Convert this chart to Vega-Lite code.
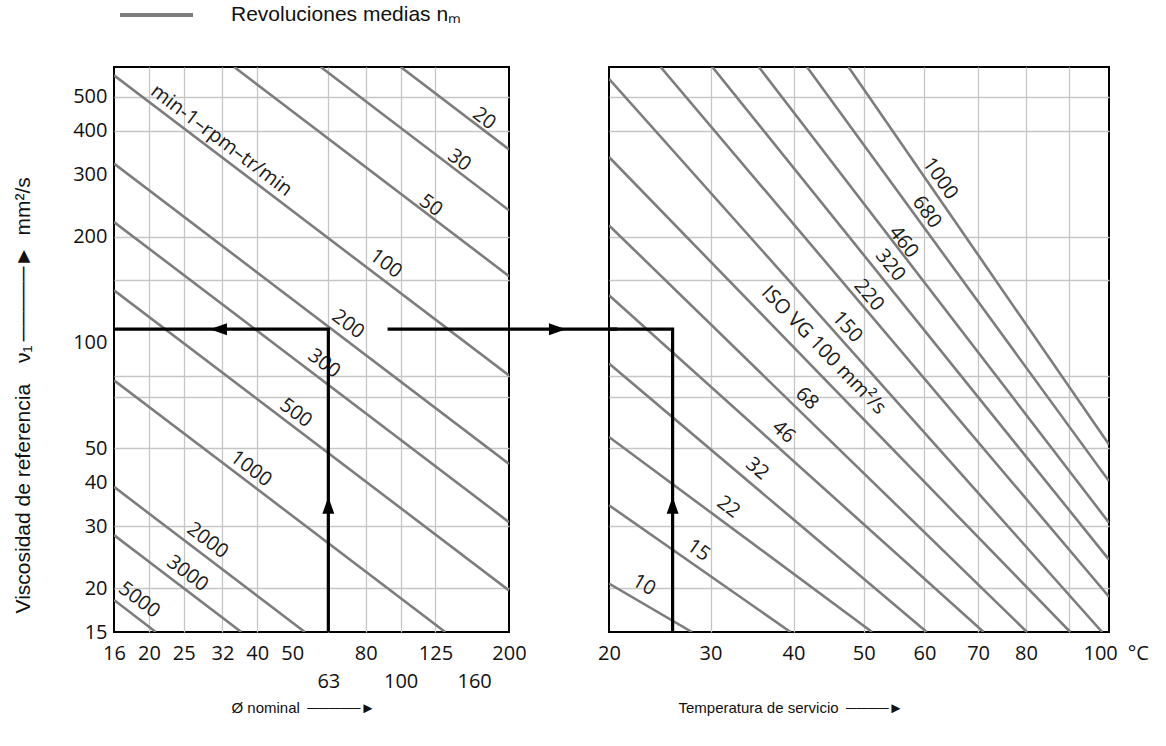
{
  "$schema": "https://vega.github.io/schema/vega-lite/v6.json",
  "background": "white",
  "padding": {"left": 10, "top": 5, "right": 5, "bottom": 5},
  "bounds": "flush",
  "spacing": 100,
  "config": {
    "view": {"stroke": "black", "strokeWidth": 2},
    "axis": {
      "labelFont": "Open Sans", "labelFontSize": 20, "labelColor": "#111111",
      "titleFont": "Liberation Sans", "titleFontSize": 15, "titleFontWeight": "normal", "titleColor": "#111111",
      "gridColor": "#c6c6c6", "gridWidth": 1.3, "ticks": false, "domain": false,
      "labelOverlap": false, "labelFlush": false
    }
  },
  "datasets": {
    "speed": [
      {"n": 20, "dm": 100.1, "nu": 607}, {"n": 20, "dm": 200, "nu": 353.6},
      {"n": 30, "dm": 60.0, "nu": 607}, {"n": 30, "dm": 200, "nu": 237.4},
      {"n": 50, "dm": 34.5, "nu": 607}, {"n": 50, "dm": 200, "nu": 154.3},
      {"n": 100, "dm": 16, "nu": 574.7}, {"n": 100, "dm": 200, "nu": 80.5},
      {"n": 200, "dm": 16, "nu": 322.4}, {"n": 200, "dm": 200, "nu": 45.1},
      {"n": 300, "dm": 16, "nu": 219.9}, {"n": 300, "dm": 200, "nu": 30.8},
      {"n": 500, "dm": 16, "nu": 140.6}, {"n": 500, "dm": 200, "nu": 19.7},
      {"n": 1000, "dm": 16, "nu": 78.0}, {"n": 1000, "dm": 133.0, "nu": 15},
      {"n": 2000, "dm": 16, "nu": 38.8}, {"n": 2000, "dm": 54.2, "nu": 15},
      {"n": 3000, "dm": 16, "nu": 28.3}, {"n": 3000, "dm": 36.1, "nu": 15},
      {"n": 5000, "dm": 16, "nu": 18.5}, {"n": 5000, "dm": 20.9, "nu": 15}
    ],
    "speedLabels": [
      {"label": "min-1–rpm–tr/min", "dm": 31.8, "nu": 375},
      {"label": "20", "dm": 170.7, "nu": 432.8},
      {"label": "30", "dm": 145.5, "nu": 329.4},
      {"label": "50", "dm": 121.3, "nu": 245},
      {"label": "100", "dm": 91.0, "nu": 167.4},
      {"label": "200", "dm": 71.5, "nu": 112.5},
      {"label": "300", "dm": 61.3, "nu": 87},
      {"label": "500", "dm": 51.2, "nu": 62.9},
      {"label": "1000", "dm": 38.4, "nu": 43.7},
      {"label": "2000", "dm": 29.1, "nu": 27.3},
      {"label": "3000", "dm": 25.6, "nu": 22.0},
      {"label": "5000", "dm": 18.8, "nu": 18.5}
    ],
    "pathL": [
      {"seg": "a", "step": 1, "dm": 16, "nu": 109},
      {"seg": "a", "step": 2, "dm": 63, "nu": 109},
      {"seg": "a", "step": 3, "dm": 63, "nu": 15},
      {"seg": "b", "step": 1, "dm": 92, "nu": 109},
      {"seg": "b", "step": 2, "dm": 400, "nu": 109}
    ],
    "headsL": [
      {"dir": "up", "dm": 63, "nu": 34.4},
      {"dir": "left", "dm": 31.2, "nu": 109},
      {"dir": "right", "dm": 272.6, "nu": 109}
    ],
    "oil": [
      {"vg": 10, "T": 20, "nu": 20.6}, {"vg": 10, "T": 28.0, "nu": 15},
      {"vg": 15, "T": 20, "nu": 34.4}, {"vg": 15, "T": 39.6, "nu": 15},
      {"vg": 22, "T": 20, "nu": 53.8}, {"vg": 22, "T": 51.3, "nu": 15},
      {"vg": 32, "T": 20, "nu": 87.0}, {"vg": 32, "T": 60.4, "nu": 15},
      {"vg": 46, "T": 20, "nu": 136.1}, {"vg": 46, "T": 71.1, "nu": 15},
      {"vg": 68, "T": 20, "nu": 215.2}, {"vg": 68, "T": 80.2, "nu": 15},
      {"vg": 100, "T": 20, "nu": 336.6}, {"vg": 100, "T": 90.2, "nu": 15},
      {"vg": 150, "T": 20, "nu": 562}, {"vg": 150, "T": 98.2, "nu": 15},
      {"vg": 220, "T": 24.8, "nu": 607}, {"vg": 220, "T": 100, "nu": 18.9},
      {"vg": 320, "T": 30.2, "nu": 607}, {"vg": 320, "T": 100, "nu": 24.1},
      {"vg": 460, "T": 35.6, "nu": 607}, {"vg": 460, "T": 100, "nu": 30.7},
      {"vg": 680, "T": 41.8, "nu": 607}, {"vg": 680, "T": 100, "nu": 40.3},
      {"vg": 1000, "T": 47.7, "nu": 607}, {"vg": 1000, "T": 100, "nu": 51.2}
    ],
    "oilLabels": [
      {"vg": 1000, "label": "1000", "T": 62.8, "nu": 292.2},
      {"vg": 680, "label": "680", "T": 60.4, "nu": 234.8},
      {"vg": 460, "label": "460", "T": 56.4, "nu": 192.9},
      {"vg": 320, "label": "320", "T": 54.2, "nu": 165.6},
      {"vg": 220, "label": "220", "T": 50.8, "nu": 136.1},
      {"vg": 150, "label": "150", "T": 47.5, "nu": 110.6},
      {"vg": 100, "label": "ISO VG 100 mm²/s", "T": 44.1, "nu": 94.9},
      {"vg": 68, "label": "68", "T": 41.8, "nu": 69.2},
      {"vg": 46, "label": "46", "T": 38.7, "nu": 55.6},
      {"vg": 32, "label": "32", "T": 35.4, "nu": 43.7},
      {"vg": 22, "label": "22", "T": 32.0, "nu": 34.0},
      {"vg": 15, "label": "15", "T": 28.7, "nu": 25.6},
      {"vg": 10, "label": "10", "T": 23.2, "nu": 20.4}
    ],
    "pathR": [
      {"step": 1, "T": 20, "nu": 109},
      {"step": 2, "T": 26, "nu": 109},
      {"step": 3, "T": 26, "nu": 15}
    ],
    "headsR": [
      {"T": 26, "nu": 34.4}
    ]
  },
  "hconcat": [
    {
      "width": 395,
      "height": 565,
      "layer": [
        {
          "data": {"name": "speed"},
          "mark": {"type": "line", "strokeWidth": 2.6, "clip": true},
          "encoding": {
            "x": {
              "field": "dm", "type": "quantitative",
              "scale": {"type": "log", "domain": [16, 200], "nice": false},
              "axis": {
                "values": [16, 20, 25, 32, 40, 50, 63, 80, 100, 125, 160, 200],
                "labelExpr": "indexof([63, 100, 160], datum.value) >= 0 ? ['', format(datum.value, 'd')] : format(datum.value, 'd')",
                "labelLineHeight": 28,
                "labelPadding": 11,
                "grid": true,
                "gridOpacity": {"condition": {"test": "indexof([16, 50, 160, 200], datum.value) >= 0", "value": 0}, "value": 1},
                "title": "Ø nominal\u2002─────►",
                "titleX": 117,
                "titleY": 75,
                "titleAlign": "left",
                "titleBaseline": "middle"
              }
            },
            "y": {
              "field": "nu", "type": "quantitative",
              "scale": {"type": "log", "domain": [15, 607], "nice": false},
              "axis": {
                "values": [15, 20, 30, 40, 50, 70, 80, 100, 150, 200, 300, 400, 500],
                "labelExpr": "indexof([70, 80, 150], datum.value) >= 0 ? '' : format(datum.value, 'd')",
                "labelPadding": 7,
                "grid": true,
                "gridOpacity": {"condition": {"test": "indexof([15, 40, 100, 300], datum.value) >= 0", "value": 0}, "value": 1},
                "title": "Viscosidad de referencia\u2003ν₁\u2009─────►\u2002mm²/s",
                "titleFontSize": 21,
                "titleAngle": 270,
                "titleX": -91,
                "titleY": 546,
                "titleAlign": "left",
                "titleBaseline": "middle"
              }
            },
            "detail": {"field": "n", "type": "nominal"},
            "color": {
              "datum": "Revoluciones medias nₘ",
              "type": "nominal",
              "scale": {"range": ["#7d7d7d"]},
              "legend": {
                "orient": "none",
                "legendX": 4,
                "legendY": -62,
                "title": null,
                "padding": 0,
                "clipHeight": 20,
                "symbolType": "stroke",
                "symbolSize": 5329,
                "symbolStrokeWidth": 4,
                "symbolStrokeColor": "#a6a6a6",
                "labelFont": "Liberation Sans",
                "labelFontSize": 21,
                "labelColor": "#111111",
                "labelLimit": 0,
                "labelOffset": 36
              }
            }
          }
        },
        {
          "data": {"name": "speedLabels"},
          "mark": {"type": "text", "font": "Open Sans", "fontSize": 20, "color": "#1a1a1a", "angle": 37, "align": "center", "baseline": "middle"},
          "encoding": {
            "x": {"field": "dm", "type": "quantitative"},
            "y": {"field": "nu", "type": "quantitative"},
            "text": {"field": "label"}
          }
        },
        {
          "data": {"name": "pathL"},
          "mark": {"type": "line", "color": "black", "strokeWidth": 3.2, "strokeJoin": "miter"},
          "encoding": {
            "x": {"field": "dm", "type": "quantitative"},
            "y": {"field": "nu", "type": "quantitative"},
            "detail": {"field": "seg", "type": "nominal"},
            "order": {"field": "step"}
          }
        },
        {
          "data": {"name": "headsL"},
          "mark": {"type": "point", "filled": true, "color": "black", "opacity": 1, "size": 289, "strokeWidth": 0},
          "encoding": {
            "x": {"field": "dm", "type": "quantitative"},
            "y": {"field": "nu", "type": "quantitative"},
            "shape": {
              "field": "dir", "type": "nominal",
              "scale": {"domain": ["up", "left", "right"], "range": ["M0,-1L0.7,1L-0.7,1Z", "M-1,0L1,-0.7L1,0.7Z", "M1,0L-1,-0.7L-1,0.7Z"]},
              "legend": null
            }
          }
        }
      ]
    },
    {
      "width": 500,
      "height": 565,
      "layer": [
        {
          "data": {"name": "oil"},
          "mark": {"type": "line", "color": "#7d7d7d", "strokeWidth": 2.6, "clip": true},
          "encoding": {
            "x": {
              "field": "T", "type": "quantitative",
              "scale": {"type": "symlog", "constant": 20, "domain": [20, 100], "nice": false},
              "axis": {
                "values": [20, 30, 40, 50, 60, 70, 80, 90, 100],
                "labelExpr": "datum.value == 90 ? '' : (datum.value == 100 ? '100\u2002°C' : format(datum.value, 'd'))",
                "labelAlign": {"condition": {"test": "datum.value == 100", "value": "left"}, "value": "center"},
                "labelOffset": {"condition": {"test": "datum.value == 100", "value": -26}, "value": 0},
                "labelPadding": 11,
                "grid": true,
                "gridOpacity": {"condition": {"test": "datum.value == 20 || datum.value == 100", "value": 0}, "value": 1},
                "title": "Temperatura de servicio\u2002────►",
                "titleX": 69,
                "titleY": 75,
                "titleAlign": "left",
                "titleBaseline": "middle"
              }
            },
            "y": {
              "field": "nu", "type": "quantitative",
              "scale": {"type": "log", "domain": [15, 607], "nice": false},
              "axis": {
                "values": [15, 20, 30, 40, 50, 70, 80, 100, 150, 200, 300, 400, 500],
                "labels": false,
                "title": null,
                "grid": true,
                "gridOpacity": {"condition": {"test": "indexof([15, 40, 100, 300], datum.value) >= 0", "value": 0}, "value": 1}
              }
            },
            "detail": {"field": "vg", "type": "nominal"}
          }
        },
        {
          "data": {"name": "oilLabels"},
          "mark": {"type": "text", "font": "Open Sans", "fontSize": 20, "color": "#1a1a1a", "align": "center", "baseline": "middle"},
          "encoding": {
            "x": {"field": "T", "type": "quantitative"},
            "y": {"field": "nu", "type": "quantitative"},
            "text": {"field": "label"},
            "angle": {
              "field": "vg", "type": "quantitative",
              "scale": {"type": "threshold", "domain": [12, 18, 27, 39, 57, 84, 125, 185, 270, 390, 570, 840], "range": [30, 35, 37, 40, 42, 44, 46, 48, 50, 51, 52, 54, 55]},
              "legend": null
            }
          }
        },
        {
          "data": {"name": "pathR"},
          "mark": {"type": "line", "color": "black", "strokeWidth": 3.2, "strokeJoin": "miter"},
          "encoding": {
            "x": {"field": "T", "type": "quantitative"},
            "y": {"field": "nu", "type": "quantitative"},
            "order": {"field": "step"}
          }
        },
        {
          "data": {"name": "headsR"},
          "mark": {"type": "point", "filled": true, "color": "black", "opacity": 1, "size": 289, "strokeWidth": 0, "shape": "M0,-1L0.7,1L-0.7,1Z"},
          "encoding": {
            "x": {"field": "T", "type": "quantitative"},
            "y": {"field": "nu", "type": "quantitative"}
          }
        }
      ]
    }
  ]
}
